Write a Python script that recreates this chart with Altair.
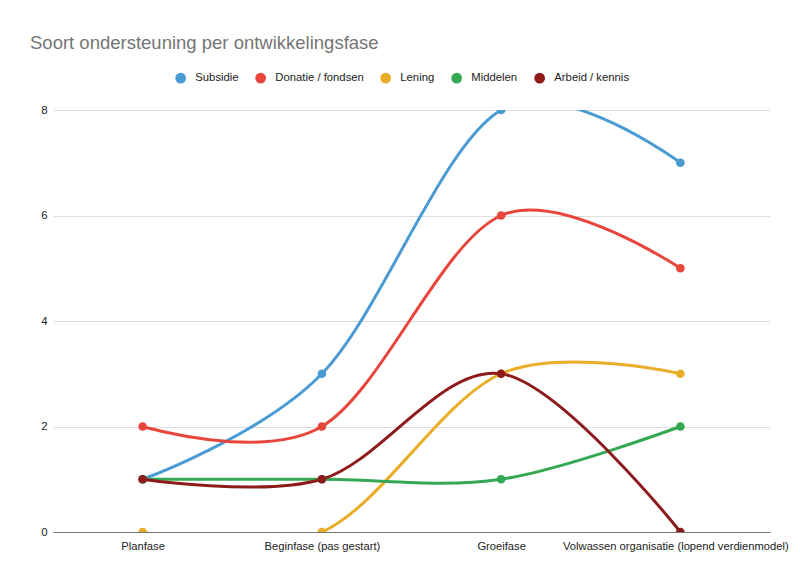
import altair as alt
import pandas as pd

categories = ["Planfase", "Beginfase (pas gestart)", "Groeifase",
              "Volwassen organisatie (lopend verdienmodel)"]
series = ["Subsidie", "Donatie / fondsen", "Lening", "Middelen", "Arbeid / kennis"]
subsidie = [1, 3, 8, 7]
donatie = [2, 2, 6, 5]
lening = [0, 0, 3, 3]
middelen = [1, 1, 1, 2]
arbeid = [1, 1, 3, 0]
colors = ["#4A9BD4", "#E8453C", "#EAAD27", "#34A853", "#8E1B1B"]

values = [subsidie, donatie, lening, middelen, arbeid]
rows = []
for s, vals in zip(series, values):
    for c, v in zip(categories, vals):
        rows.append({"fase": c, "soort": s, "aantal": v})
df = pd.DataFrame(rows)

FONT = "Liberation Sans, Arial"

x = alt.X("fase:N", sort=categories, scale=alt.Scale(padding=0.5),
          axis=alt.Axis(title=None, labelAngle=0, ticks=False, labelPadding=8,
                        domainColor="#777777", labelColor="#222222", labelLimit=0,
                        labelFontSize=11.2, labelFont=FONT, grid=False,
                        labelOffset={"condition": {"test": "datum.index == 1", "value": -5},
                                     "value": 0}))
y = alt.Y("aantal:Q", scale=alt.Scale(domain=[0, 8], nice=False),
          axis=alt.Axis(title=None, values=[0, 2, 4, 6, 8], ticks=False,
                        domain=False, labelPadding=6, gridColor="#DDDDDD",
                        labelColor="#222222", labelFontSize=11.4, labelFont=FONT))
color = alt.Color("soort:N", sort=series,
                  scale=alt.Scale(domain=series, range=colors),
                  legend=alt.Legend(title=None, orient="none", direction="horizontal",
                                    legendX=122, legendY=-38, symbolType="circle",
                                    symbolSize=115, symbolStrokeWidth=0,
                                    labelFontSize=11.3, labelFont=FONT,
                                    labelColor="#222222", labelOffset=9,
                                    columnPadding=16))

lines = alt.Chart(df).mark_line(interpolate="cardinal", strokeWidth=3, clip=True).encode(
    x=x, y=y, color=color)
points = alt.Chart(df).mark_point(filled=True, size=75, opacity=1, clip=True).encode(
    x=x, y=y, color=color)

chart = alt.layer(lines, points).properties(
    width=717, height=422,
    autosize=alt.AutoSizeParams(type="none"),
    padding={"left": 45, "top": 102, "right": 22, "bottom": 30},
    title=alt.Title("Soort ondersteuning per ontwikkelingsfase", anchor="start",
                    frame="group", dx=-23, fontSize=18.5, fontWeight="normal",
                    font=FONT, color="#757575", offset=20),
).configure_view(stroke=None)

chart.save("out.html", embed_options={"renderer": "svg", "actions": False})
